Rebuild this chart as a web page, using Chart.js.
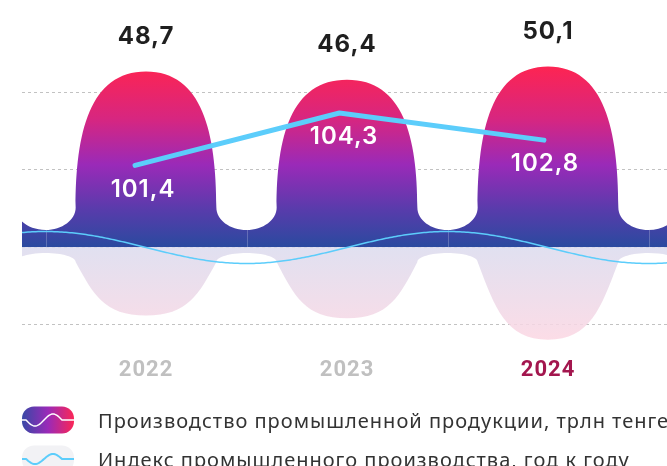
<!DOCTYPE html>
<html lang="ru">
<head>
<meta charset="utf-8">
<title>Промышленное производство</title>
<script src="https://cdn.jsdelivr.net/npm/chart.js@4.4.1/dist/chart.umd.min.js"></script>
<style>
  html, body { margin: 0; padding: 0; background: #fff; }
  .wrap { position: relative; width: 667px; height: 466px; overflow: hidden; }
</style>
</head>
<body>
<div class="wrap"><canvas id="industry"></canvas></div>
<script>
// --- DATA --- //
const years = [2022, 2023, 2024]
const production = [48.7, 46.4, 50.1]          // трлн тенге
const productionIndex = [101.4, 104.3, 102.8]  // %, год к году
const reflection = [19.0, 19.8, 25.7]          // глубина "отражения" под осью
const highlightYear = 2024
const seriesNames = [
  'Производство промышленной продукции, трлн тенге',
  'Индекс промышленного производства, год к году'
]

const fmt = v => v.toFixed(1).replace('.', ',')
const BLUE = '#5ccdfb'

// --- TEXT SPACING --- //
const spacing = {
  id: 'spacing',
  beforeDraw: chart => { chart.ctx.letterSpacing = '1px' }
}

// --- BLOB BARS + REFLECTION + WAVE --- //
const blobShapes = {
  id: 'blobShapes',
  beforeDatasetsDraw: chart => {
    const { ctx, chartArea, scales } = chart
    const els = chart.getDatasetMeta(0).data
    const y = scales.y
    const base = y.getPixelForValue(0)
    const step = els[1].x - els[0].x
    const hw = els[0].width / 2
    const uhw = step / 2 - hw
    const k = 0.552
    const g0 = els[0].x - step / 2
    const gEnd = els[els.length - 1].x + step / 2

    ctx.save()
    ctx.beginPath()
    ctx.rect(chartArea.left, 0, chartArea.right - chartArea.left, chart.height)
    ctx.clip()

    // reflection below the axis
    const rS = base + 15
    const rV = base + 6
    const rGrad = ctx.createLinearGradient(0, base, 0, base + 95)
    rGrad.addColorStop(0, 'rgba(219, 219, 238, 0.85)')
    rGrad.addColorStop(1, 'rgba(252, 214, 226, 0.85)')
    ctx.beginPath()
    ctx.moveTo(g0 - uhw, base)
    ctx.lineTo(g0 - uhw, rS)
    ctx.bezierCurveTo(g0 - uhw, rS - k * (rS - rV), g0 - k * uhw, rV, g0, rV)
    els.forEach((el, i) => {
      const cx = el.x
      const bot = y.getPixelForValue(-reflection[i])
      const gL = cx - step / 2
      const gR = cx + step / 2
      ctx.bezierCurveTo(gL + k * uhw, rV, cx - hw, rS - k * (rS - rV), cx - hw, rS)
      ctx.bezierCurveTo(cx - hw * 0.75, rS + 0.6 * (bot - rS), cx - hw * 0.6, bot, cx, bot)
      ctx.bezierCurveTo(cx + hw * 0.6, bot, cx + hw * 0.75, rS + 0.6 * (bot - rS), cx + hw, rS)
      ctx.bezierCurveTo(cx + hw, rS - k * (rS - rV), gR - k * uhw, rV, gR, rV)
    })
    ctx.bezierCurveTo(gEnd + k * uhw, rV, gEnd + uhw, rS - k * (rS - rV), gEnd + uhw, rS)
    ctx.lineTo(gEnd + uhw, base)
    ctx.closePath()
    ctx.fillStyle = rGrad
    ctx.fill()

    // main shape
    const yS = base - 39.5
    const yV = base - 17
    const grad = ctx.createLinearGradient(0, 64, 0, base)
    grad.addColorStop(0, '#ff2450')
    grad.addColorStop(0.3, '#d72680')
    grad.addColorStop(0.55, '#9a2ab8')
    grad.addColorStop(0.8, '#573cab')
    grad.addColorStop(1, '#2a4a9f')
    ctx.beginPath()
    ctx.moveTo(g0 - uhw, base)
    ctx.lineTo(g0 - uhw, yS)
    ctx.bezierCurveTo(g0 - uhw, yS + k * (yV - yS), g0 - k * uhw, yV, g0, yV)
    els.forEach(el => {
      const cx = el.x
      const top = el.y
      const gL = cx - step / 2
      const gR = cx + step / 2
      ctx.bezierCurveTo(gL + k * uhw, yV, cx - hw, yS + k * (yV - yS), cx - hw, yS)
      ctx.bezierCurveTo(cx - hw, top + 0.45 * (yS - top), cx - 0.8 * hw, top, cx, top)
      ctx.bezierCurveTo(cx + 0.8 * hw, top, cx + hw, top + 0.45 * (yS - top), cx + hw, yS)
      ctx.bezierCurveTo(cx + hw, yS + k * (yV - yS), gR - k * uhw, yV, gR, yV)
    })
    ctx.bezierCurveTo(gEnd + k * uhw, yV, gEnd + uhw, yS + k * (yV - yS), gEnd + uhw, yS)
    ctx.lineTo(gEnd + uhw, base)
    ctx.closePath()
    ctx.fillStyle = grad
    ctx.fill()

    // faint separators in the band
    ctx.strokeStyle = 'rgba(255, 255, 255, 0.22)'
    ctx.lineWidth = 1
    for (let g = g0; g <= chartArea.right + 1; g += step) {
      ctx.beginPath()
      ctx.moveTo(Math.round(g) + 0.5, yV)
      ctx.lineTo(Math.round(g) + 0.5, base)
      ctx.stroke()
    }

    // thin wave
    ctx.beginPath()
    for (let x = chartArea.left; x <= chartArea.right + 2; x += 2) {
      const wy = base + 0.5 - 16 * Math.cos(Math.PI * (x - g0) / step)
      if (x === chartArea.left) ctx.moveTo(x, wy)
      else ctx.lineTo(x, wy)
    }
    ctx.strokeStyle = BLUE
    ctx.lineWidth = 1.5
    ctx.stroke()
    ctx.restore()
  }
}

// --- VALUE LABELS --- //
const valueLabels = {
  id: 'valueLabels',
  afterDatasetsDraw: chart => {
    const { ctx } = chart
    const bars = chart.getDatasetMeta(0).data
    const points = chart.getDatasetMeta(1).data
    ctx.save()
    ctx.textAlign = 'center'
    ctx.textBaseline = 'middle'
    ctx.font = "700 24px 'Inter', sans-serif"
    ctx.fillStyle = '#1f1f1f'
    bars.forEach((el, i) => ctx.fillText(fmt(production[i]), el.x, el.y - 35))
    ctx.font = "600 24px 'Inter', sans-serif"
    ctx.fillStyle = '#ffffff'
    points.forEach((pt, i) => ctx.fillText(fmt(productionIndex[i]), bars[i].x - 3, pt.y + 24))
    ctx.restore()
  }
}

// --- LEGEND --- //
const iconWave = (ctx, x, cy, w, amp) => {
  ctx.beginPath()
  ctx.moveTo(x, cy)
  ctx.lineTo(x + 4, cy)
  for (let t = 0; t <= 36; t += 1) {
    ctx.lineTo(x + 4 + t, cy + amp * Math.sin(2 * Math.PI * t / 36))
  }
  ctx.lineTo(x + w, cy)
  ctx.stroke()
}

const waveLegend = {
  id: 'waveLegend',
  afterDraw: chart => {
    const { ctx } = chart
    const rows = [420, 459]
    const iconX = 22
    const iconW = 52
    const iconH = 27
    ctx.save()
    // icon 1
    const g = ctx.createLinearGradient(iconX, 0, iconX + iconW, 0)
    g.addColorStop(0, '#3848a6')
    g.addColorStop(0.5, '#9a2ab8')
    g.addColorStop(1, '#fb2656')
    ctx.beginPath()
    ctx.roundRect(iconX, rows[0] - iconH / 2, iconW, iconH, 12)
    ctx.fillStyle = g
    ctx.fill()
    ctx.strokeStyle = '#ffffff'
    ctx.lineWidth = 1.5
    iconWave(ctx, iconX, rows[0], iconW, 6)
    // icon 2
    ctx.beginPath()
    ctx.roundRect(iconX, rows[1] - iconH / 2, iconW, iconH, 12)
    ctx.fillStyle = '#f2f2f5'
    ctx.fill()
    ctx.strokeStyle = BLUE
    ctx.lineWidth = 2
    iconWave(ctx, iconX, rows[1], iconW, 5)
    // texts
    ctx.font = "20px 'Noto Sans', sans-serif"
    ctx.fillStyle = '#333333'
    ctx.textAlign = 'left'
    ctx.textBaseline = 'alphabetic'
    chart.data.datasets.forEach((ds, i) => ctx.fillText(ds.label, 98, rows[i] + 7.5))
    ctx.restore()
  }
}

// --- CHART --- //
const canvas = document.getElementById('industry')

const chart = new Chart(canvas, {
  data: {
    datasets: [
      {
        type: 'bar',
        label: seriesNames[0],
        data: years.map((yr, i) => ({ x: yr, y: production[i] })),
        backgroundColor: 'rgba(0, 0, 0, 0)',
        borderWidth: 0,
        grouped: false,
        categoryPercentage: 0.8,
        barPercentage: 0.875,
        xAxisID: 'x',
        yAxisID: 'y',
        order: 1
      },
      {
        type: 'line',
        label: seriesNames[1],
        data: years.map((yr, i) => ({ x: yr, y: productionIndex[i] })),
        borderColor: BLUE,
        borderWidth: 5,
        borderCapStyle: 'round',
        borderJoinStyle: 'round',
        pointRadius: 0,
        tension: 0,
        xAxisID: 'xLine',
        yAxisID: 'y1',
        order: 0
      }
    ]
  },
  options: {
    responsive: true,
    maintainAspectRatio: false,
    animation: false,
    events: [],
    layout: { padding: { left: 22, right: 0, top: 14.5, bottom: 81.5 } },
    scales: {
      x: {
        type: 'linear',
        min: 2021.383,
        max: 2024.592,
        offset: false,
        grid: { display: false, drawTicks: false, offset: false },
        border: { display: false },
        ticks: {
          stepSize: 1,
          includeBounds: false,
          padding: 33,
          autoSkip: false,
          maxRotation: 0,
          font: { family: "'Roboto', sans-serif", size: 22, weight: 'bold' },
          color: c => (c.tick && c.tick.value === highlightYear ? '#a3164e' : '#c0c0c0'),
          callback: v => String(v)
        },
        afterFit: s => { s.height = 60 }
      },
      xLine: {
        type: 'linear',
        display: false,
        offset: false,
        min: 2021.447,
        max: 2024.602
      },
      y: {
        min: -21.5,
        max: 64.5,
        ticks: { display: false, stepSize: 21.5 },
        grid: {
          drawTicks: false,
          color: c => (c.tick && c.tick.value > 60 ? 'rgba(0,0,0,0)' : '#c2c2c2'),
          lineWidth: 1
        },
        border: { display: false, dash: [3, 3] },
        afterFit: s => { s.width = 0 }
      },
      y1: {
        display: false,
        min: 92.6,
        max: 109.75
      }
    },
    plugins: {
      legend: { display: false },
      tooltip: { enabled: false }
    }
  },
  plugins: [spacing, blobShapes, valueLabels, waveLegend]
})
</script>
</body>
</html>
